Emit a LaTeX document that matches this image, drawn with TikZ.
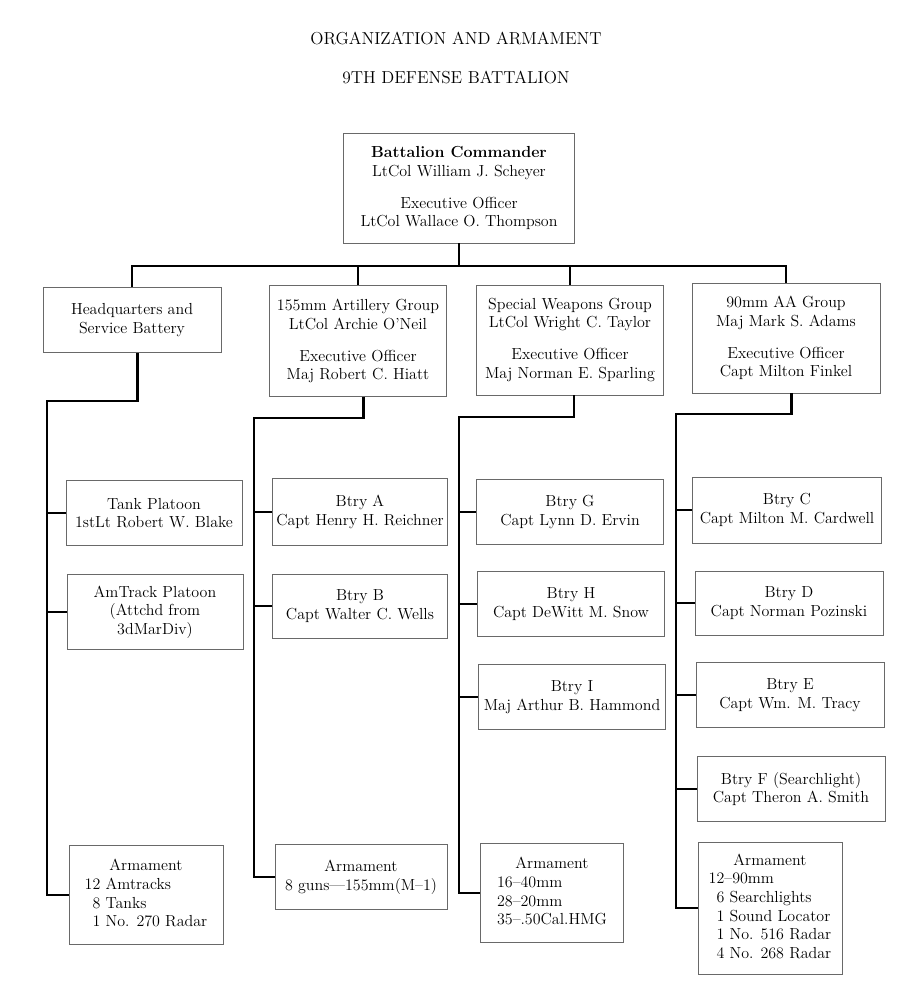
\documentclass[tikz,border=0pt]{standalone}
\usepackage{tikz}
\usetikzlibrary{positioning}
\usepackage{xcolor}
\definecolor{boxgray}{RGB}{105,105,105}
\tikzstyle{unit} = [rectangle, draw=boxgray, line width=0.5pt, align=center, inner sep=1pt, font=\fontsize{12}{14}\selectfont]
\tikzstyle{link} = [line width=2pt, color=black]
\tikzstyle{heading} = [font=\fontsize{13}{15}\selectfont]
\tikzset{boxdim/.style 2 args={minimum width=#1*0.75pt, minimum height=#2*0.75pt}}

\begin{document}
\begin{tikzpicture}[x=0.75pt, y=-0.75pt]
\useasboundingbox (0,0) rectangle (900,992);

% Titles
\node[heading] (title) at (456,38) {ORGANIZATION AND ARMAMENT};
\node[heading] (subtitle) at (456,77) {9TH DEFENSE BATTALION};

% Battalion commander
\node[unit, boxdim={231}{110}] (cmd) at (459,188) {\textbf{Battalion Commander}\\ LtCol William J. Scheyer\\[10pt] Executive Officer\\ LtCol Wallace O. Thompson};

% Groups
\node[unit, boxdim={178}{65}] (hq) at (132,320) {Headquarters and\\ Service Battery};
\node[unit, boxdim={177}{111}] (art) at (358,341) {155mm Artillery Group\\ LtCol Archie O’Neil\\[10pt] Executive Officer\\ Maj Robert C. Hiatt};
\node[unit, boxdim={187}{110}] (spw) at (570,340) {Special Weapons Group\\ LtCol Wright C. Taylor\\[10pt] Executive Officer\\ Maj Norman E. Sparling};
\node[unit, boxdim={188}{110}] (aa) at (786,338) {90mm AA Group\\ Maj Mark S. Adams\\[10pt] Executive Officer\\ Capt Milton Finkel};

% Bus
\coordinate (bus) at (0,266);
\draw[link] (cmd.south) -- (cmd.south |- bus);
\draw[link] (hq.north) -- (hq.north |- bus) -- (aa.north |- bus) -- (aa.north);
\draw[link] (art.north) -- (art.north |- bus);
\draw[link] (spw.north) -- (spw.north |- bus);

% HQ column
\node[unit, boxdim={176}{65}] (tank) at (154,513) {Tank Platoon\\ 1stLt Robert W. Blake};
\node[unit, boxdim={176}{75}] (amtrack) at (155,612) {AmTrack Platoon\\ (Attchd from\\ 3dMarDiv)};
\node[unit, boxdim={154}{99}] (hqarm) at (146,895) {\begin{tabular}{@{}r@{~}l@{}}\multicolumn{2}{c}{Armament}\\ 12&Amtracks\\ 8&Tanks\\ 1&No. 270 Radar\end{tabular}};
\coordinate (hqspine) at (47,401);
\draw[link] ([xshift=4pt]hq.south) |- (hqspine) -- (hqspine |- hqarm.west) -- (hqarm.west);
\foreach \b in {tank,amtrack}
  \draw[link] (hqspine |- \b.west) -- (\b.west);

% Artillery column
\node[unit, boxdim={175}{67}] (btrya) at (360,512) {Btry A\\ Capt Henry H. Reichner};
\node[unit, boxdim={175}{64}] (btryb) at (360,606) {Btry B\\ Capt Walter C. Wells};
\node[unit, boxdim={172}{65}] (artarm) at (361,877) {Armament\\ 8 guns—155mm(M–1)};
\coordinate (artspine) at (254,418);
\draw[link] ([xshift=4pt]art.south) |- (artspine) -- (artspine |- artarm.west) -- (artarm.west);
\foreach \b in {btrya,btryb}
  \draw[link] (artspine |- \b.west) -- (\b.west);

% Special weapons column
\node[unit, boxdim={187}{65}] (btryg) at (570,512) {Btry G\\ Capt Lynn D. Ervin};
\node[unit, boxdim={187}{65}] (btryh) at (571,604) {Btry H\\ Capt DeWitt M. Snow};
\node[unit, boxdim={187}{65}] (btryi) at (572,697) {Btry I\\ Maj Arthur B. Hammond};
\node[unit, boxdim={143}{99}] (spwarm) at (552,893) {\begin{tabular}{@{}l@{}}\multicolumn{1}{c}{Armament}\\ 16–40mm\\ 28–20mm\\ 35–.50Cal.HMG\end{tabular}};
\coordinate (spwspine) at (459,417);
\draw[link] ([xshift=3pt]spw.south) |- (spwspine) -- (spwspine |- spwarm.west) -- (spwarm.west);
\foreach \b in {btryg,btryh,btryi}
  \draw[link] (spwspine |- \b.west) -- (\b.west);

% AA column
\node[unit, boxdim={189}{66}] (btryc) at (787,510) {Btry C\\ Capt Milton M. Cardwell};
\node[unit, boxdim={188}{64}] (btryd) at (789,603) {Btry D\\ Capt Norman Pozinski};
\node[unit, boxdim={188}{65}] (btrye) at (790,695) {Btry E\\ Capt Wm. M. Tracy};
\node[unit, boxdim={188}{65}] (btryf) at (791,789) {Btry F (Searchlight)\\ Capt Theron A. Smith};
\node[unit, boxdim={144}{132}] (aaarm) at (770,908) {\begin{tabular}{@{}r@{}l@{}}\multicolumn{2}{c}{Armament}\\ 12&–90mm\\ 6&~Searchlights\\ 1&~Sound Locator\\ 1&~No. 516 Radar\\ 4&~No. 268 Radar\end{tabular}};
\coordinate (aaspine) at (676,414);
\draw[link] ([xshift=4pt]aa.south) |- (aaspine) -- (aaspine |- aaarm.west) -- (aaarm.west);
\foreach \b in {btryc,btryd,btrye,btryf}
  \draw[link] (aaspine |- \b.west) -- (\b.west);
\end{tikzpicture}
\end{document}
